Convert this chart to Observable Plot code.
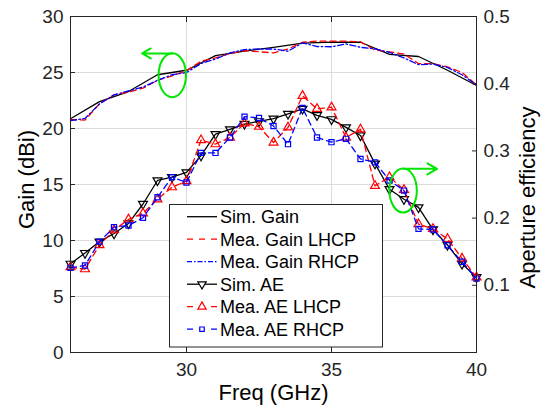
<!DOCTYPE html>
<html><head><meta charset="utf-8">
<script src="https://cdn.jsdelivr.net/npm/d3@7"></script>
<script src="https://cdn.jsdelivr.net/npm/@observablehq/plot@0.6"></script>
<style>
html,body{margin:0;padding:0;background:#fff;}
#wrap{position:relative;width:554px;height:407px;}
#legend{position:absolute;left:0;top:0;pointer-events:none;}
</style></head><body><div id="wrap"></div>
<script>
// ---- data ----
const freq = [26,26.5,27,27.5,28,28.5,29,29.5,30,30.5,31,31.5,32,32.5,33,33.5,34,34.5,35,35.5,36,36.5,37,37.5,38,38.5,39,39.5,40];
const simGainFreq = [26,27,28,29,30,31,32,33,34,35,36,37,38,39,40];
const simGain = [20.87,22.4,23.3,24.8,25.2,26.5,26.9,27.25,27.62,27.72,27.7,26.62,26.43,25.2,23.84];
const meaGainLHCP = [20.8,20.75,22.2,23.0,23.25,23.6,24.3,24.7,25.15,26.0,26.3,26.7,26.95,26.85,26.75,27.1,27.7,27.8,27.8,27.8,27.75,27.0,26.85,26.65,25.8,25.8,25.5,25.0,23.9];
const meaGainRHCP = [20.7,20.9,22.2,23.0,23.35,23.7,24.3,24.8,25.0,25.8,26.2,26.75,27.05,27.1,27.1,26.9,27.65,27.32,27.3,27.55,27.25,27.1,26.8,26.3,25.7,25.75,25.45,24.8,23.9];
const simAE = [0.132,0.148,0.165,0.177,0.192,0.221,0.256,0.261,0.268,0.293,0.325,0.332,0.340,0.344,0.348,0.355,0.3625,0.353,0.347,0.335,0.323,0.281,0.243,0.228,0.216,0.183,0.160,0.132,0.112];
const meaAELHCP = [0.127,0.124,0.160,0.182,0.198,0.207,0.228,0.246,0.255,0.316,0.310,0.320,0.341,0.336,0.3125,0.335,0.382,0.3625,0.365,0.320,0.332,0.248,0.261,0.242,0.191,0.184,0.169,0.140,0.112];
const meaAERHCP = [0.126,0.1295,0.165,0.1865,0.189,0.2005,0.231,0.261,0.253,0.297,0.297,0.320,0.351,0.349,0.337,0.310,0.364,0.320,0.313,0.318,0.288,0.283,0.256,0.241,0.184,0.183,0.1595,0.135,0.110];
const xTicks = [30,35,40];
const gainTicks = [0,5,10,15,20,25,30];
const aeTicks = [0.1,0.2,0.3,0.4,0.5];
const AE_TO_GAIN = 60; // right axis 0..0.5 aligned with left axis 0..30
// annotations (ellipse + arrow)
const ellX = [29.51, 37.47], ellY = [24.76, 14.46];
const arrX1 = [29.5, 37.49], arrX2 = [28.47, 38.64], arrY = [26.7, 16.4];

const legendItems = [
  {label:"Sim. Gain", color:"#000", dash:null, sym:null},
  {label:"Mea. Gain LHCP", color:"#ff0000", dash:"6,6", sym:null},
  {label:"Mea. Gain RHCP", color:"#0000ff", dash:"5,2,1.5,2", sym:null},
  {label:"Sim. AE", color:"#000", dash:null, sym:"down"},
  {label:"Mea. AE LHCP", color:"#ff0000", dash:"6,6", sym:"up"},
  {label:"Mea. AE RHCP", color:"#0000ff", dash:"6,6", sym:"square"}
];

const RED="#ff0000", BLUE="#0000ff", GREEN="#00e600", AX="#262626";
const ellipseSym = (rx, ry) => ({draw(c){const k=0.5523;
  c.moveTo(rx,0); c.bezierCurveTo(rx,ry*k,rx*k,ry,0,ry); c.bezierCurveTo(-rx*k,ry,-rx,ry*k,-rx,0);
  c.bezierCurveTo(-rx,-ry*k,-rx*k,-ry,0,-ry); c.bezierCurveTo(rx*k,-ry,rx,-ry*k,rx,0); c.closePath();}});
const toG = a => a.map(v => v*AE_TO_GAIN);

const chart = Plot.plot({
  width:554, height:407,
  marginLeft:70, marginRight:78, marginTop:16, marginBottom:55,
  x:{domain:[26,40]},
  y:{domain:[0,30]},
  style:{fontFamily:"'Liberation Sans', Arial, Helvetica, sans-serif", fontSize:"19px", background:"#fff", color:AX, overflow:"visible"},
  marks:[
    Plot.gridX([30,35], {stroke:"#dcdcdc", strokeOpacity:1}),
    Plot.gridY([5,10,15,20,25], {stroke:"#dcdcdc", strokeOpacity:1}),
    // gain lines
    Plot.line(simGainFreq, {x:simGainFreq, y:simGain, stroke:"#000", strokeWidth:1.3}),
    Plot.line(freq, {x:freq, y:meaGainLHCP, stroke:RED, strokeWidth:1.3, strokeDasharray:"6,4"}),
    Plot.line(freq, {x:freq, y:meaGainRHCP, stroke:BLUE, strokeWidth:1.3, strokeDasharray:"6,2.5,1.5,2.5"}),
    // AE lines
    Plot.line(freq, {x:freq, y:toG(simAE), stroke:"#000", strokeWidth:1.3}),
    Plot.dot(freq, {x:freq, y:toG(simAE), symbol:"triangle", rotate:180, r:3.3, stroke:"#000", fill:"none", strokeWidth:1.2}),
    Plot.line(freq, {x:freq, y:toG(meaAELHCP), stroke:RED, strokeWidth:1.3, strokeDasharray:"6,4"}),
    Plot.dot(freq, {x:freq, y:toG(meaAELHCP), symbol:"triangle", r:3.3, stroke:RED, fill:"none", strokeWidth:1.2}),
    Plot.line(freq, {x:freq, y:toG(meaAERHCP), stroke:BLUE, strokeWidth:1.3, strokeDasharray:"6,4"}),
    Plot.dot(freq, {x:freq, y:toG(meaAERHCP), symbol:"square", r:2.9, stroke:BLUE, fill:"none", strokeWidth:1.2}),
    // annotations
    Plot.dot(ellX, {x:ellX, y:ellY, symbol:ellipseSym(13.7,22), stroke:GREEN, strokeWidth:2, fill:"none"}),
    Plot.arrow(arrY, {x1:arrX1, x2:arrX2, y1:arrY, y2:arrY, stroke:GREEN, strokeWidth:2, headLength:10, headAngle:60}),
    Plot.frame({stroke:AX}),
    // axes with inward ticks
    Plot.axisY(gainTicks, {anchor:"left", tickSize:5, dx:5, tickPadding:7, label:null, color:AX}),
    Plot.axisY(aeTicks.map(v=>v*AE_TO_GAIN), {anchor:"right", tickSize:5, dx:-5, tickPadding:7, label:null, color:AX, tickFormat:d=>(d/AE_TO_GAIN).toFixed(1)}),
    Plot.axisX(xTicks, {anchor:"bottom", tickSize:5, dy:-5, tickPadding:10, label:null, color:AX}),
    Plot.axisX(xTicks, {anchor:"top", tickSize:5, dy:5, fill:"none", label:null, color:AX}),
    // axis titles
    Plot.text(["Gain (dBi)"], {text:d=>d, frameAnchor:"left", textAnchor:"middle", lineAnchor:"middle", dx:-44, dy:-5, rotate:-90, fontSize:22, fill:"#000"}),
    Plot.text(["Aperture efficiency"], {text:d=>d, frameAnchor:"right", textAnchor:"middle", lineAnchor:"middle", dx:51, dy:13, rotate:-90, fontSize:22, fill:"#000"}),
    Plot.text(["Freq (GHz)"], {text:d=>d, frameAnchor:"bottom", textAnchor:"middle", lineAnchor:"middle", dy:40, fontSize:22, fill:"#000"})
  ]
});
document.getElementById("wrap").appendChild(chart);

// legend overlay
const lg = d3.select("#wrap").append("svg").attr("id","legend").attr("width",554).attr("height",407)
  .style("font-family","'Liberation Sans', Arial, Helvetica, sans-serif");
lg.append("rect").attr("x",169.5).attr("y",204.5).attr("width",213).attr("height",142.5)
  .attr("fill","#fff").attr("stroke",AX).attr("stroke-width",1);
legendItems.forEach((it,i)=>{
  const y = 216.7 + i*22.5;
  lg.append("line").attr("x1",187).attr("x2",217).attr("y1",y).attr("y2",y)
    .attr("stroke",it.color).attr("stroke-width",1.3).attr("stroke-dasharray",it.dash);
  if (it.sym) {
    const type = it.sym==="square" ? d3.symbolSquare : d3.symbolTriangle;
    const r = it.sym==="square" ? 2.5 : 3.1;
    lg.append("path").attr("d", d3.symbol().type(type).size(Math.PI*r*r)())
      .attr("transform",`translate(202,${y})${it.sym==="down"?" rotate(180)":""}`)
      .attr("fill","#fff").attr("stroke",it.color).attr("stroke-width",1.2);
  }
  lg.append("text").attr("x",220).attr("y",y).attr("dy","0.35em").attr("font-size",18).attr("fill","#000").text(it.label);
});
</script></body></html>
